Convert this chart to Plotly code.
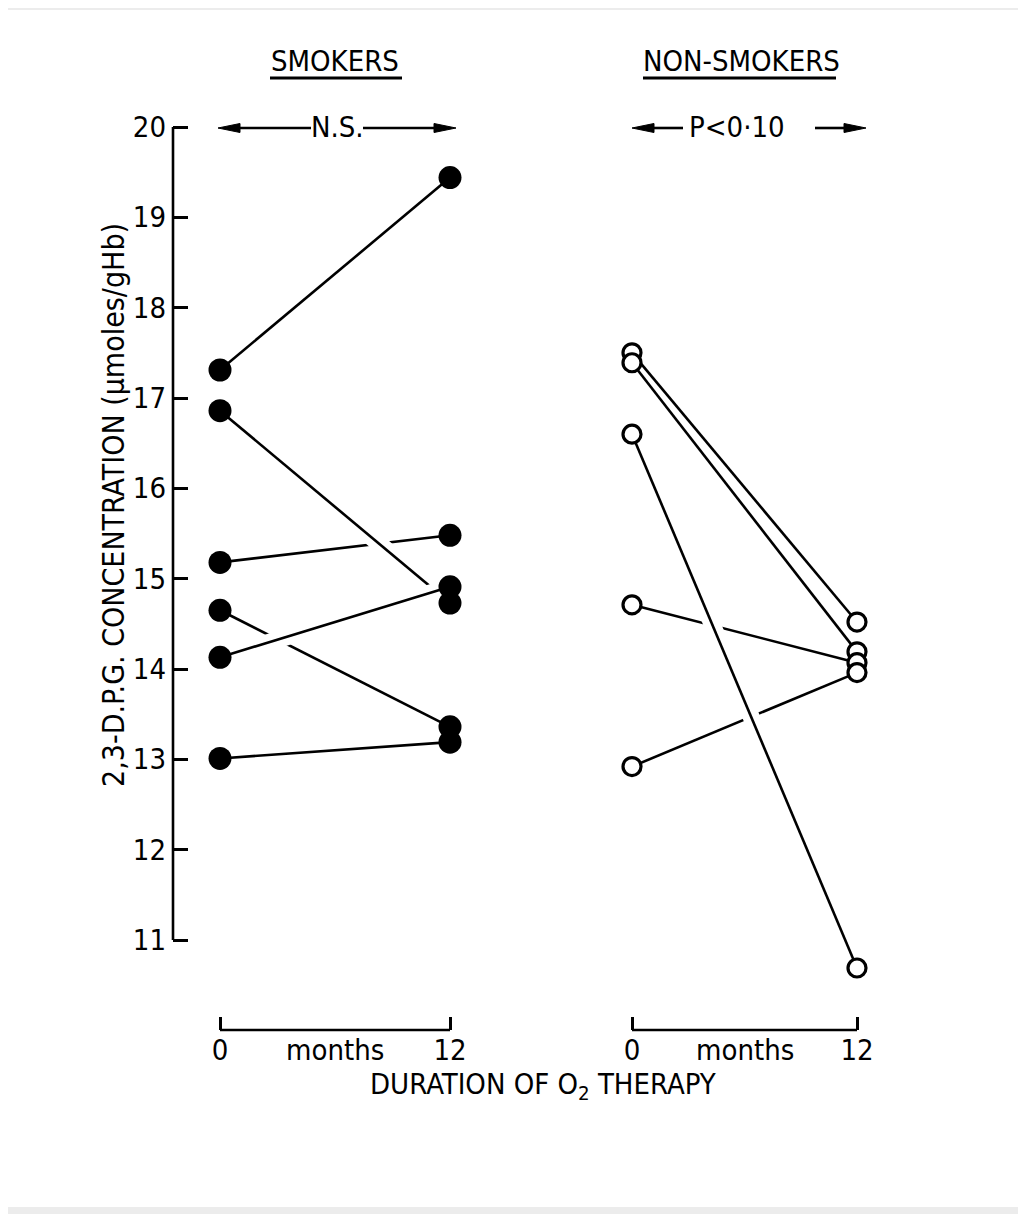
import plotly.graph_objects as go

# ---------------- data ----------------
months = [0, 12]
smokers_start = [17.31, 16.86, 15.18, 14.65, 14.13, 13.01]
smokers_end = [19.44, 14.73, 15.48, 13.36, 14.91, 13.19]
nonsmokers_start = [17.50, 17.39, 16.60, 14.71, 12.92]
nonsmokers_end = [14.52, 14.19, 10.69, 14.07, 13.96]
y_ticks = [11, 12, 13, 14, 15, 16, 17, 18, 19, 20]
x_ticks = [0, 12]
x_ticktext = ["0", "12"]

# lines drawn "on top" with a white gap where they cross others
smokers_top = [1, 4]
nonsmokers_top = [2]

# the page is shown with an 8px body margin; compensate
OFF = 8
W, H = 1026 - OFF, 1214 - OFF
FONT = "Liberation Sans Narrow, DejaVu Sans Condensed, Arial Narrow, sans-serif"
LW = 2.6


def px_x(p):
    return (p - OFF) / W


def px_y(p):
    return 1 - (p - OFF) / H


fig = go.Figure()


def add_group(starts, ends, top, xa, ya, filled):
    order = [i for i in range(len(starts)) if i not in top] + top
    for i in order:
        if i in top:
            fig.add_trace(go.Scatter(x=months, y=[starts[i], ends[i]], mode="lines",
                                     line=dict(color="white", width=17),
                                     xaxis=xa, yaxis=ya, hoverinfo="skip", showlegend=False))
        fig.add_trace(go.Scatter(x=months, y=[starts[i], ends[i]], mode="lines",
                                 line=dict(color="black", width=LW),
                                 xaxis=xa, yaxis=ya, hoverinfo="skip", showlegend=False))
    xs = [0] * len(starts) + [12] * len(ends)
    ys = list(starts) + list(ends)
    if filled:
        marker = dict(size=23, color="black", line=dict(width=0))
    else:
        marker = dict(size=18, color="white", line=dict(color="black", width=3.2))
    fig.add_trace(go.Scatter(x=xs, y=ys, mode="markers", marker=marker, cliponaxis=False,
                             xaxis=xa, yaxis=ya, hoverinfo="skip", showlegend=False))


add_group(smokers_start, smokers_end, smokers_top, "x", "y", True)
add_group(nonsmokers_start, nonsmokers_end, nonsmokers_top, "x2", "y2", False)

# ---------------- axes ----------------
unit_l = (450 - 220) / 12.0
unit_r = (857 - 632) / 12.0
unit_y = (940 - 127) / 9.0
ax_left_px = 173
y_top_px, y_bot_px = 110, 1030

x1_range = [-(220 - ax_left_px) / unit_l, 12 + (480 - 450) / unit_l]
x2_range = [-(632 - 600) / unit_r, 12 + (890 - 857) / unit_r]
y_range = [11 - (y_bot_px - 940) / unit_y, 20 + (127 - y_top_px) / unit_y]

xcommon = dict(showgrid=False, zeroline=False, showline=False, ticks="inside",
               ticklen=13, tickwidth=LW, tickcolor="black",
               tickvals=x_ticks, ticktext=x_ticktext,
               tickfont=dict(family=FONT, size=29, color="black"))

fig.update_layout(
    width=W, height=H, autosize=False,
    margin=dict(l=0, r=0, t=0, b=0),
    paper_bgcolor="#ececec", plot_bgcolor="rgba(0,0,0,0)",
    xaxis=dict(domain=[px_x(ax_left_px), px_x(480)], range=x1_range, anchor="y", **xcommon),
    xaxis2=dict(domain=[px_x(600), px_x(890)], range=x2_range, anchor="y2", **xcommon),
    yaxis=dict(domain=[px_y(y_bot_px), px_y(y_top_px)], range=y_range, anchor="x",
               showgrid=False, zeroline=False, showline=False,
               ticks="inside", ticklen=15, tickwidth=LW, tickcolor="black",
               tickvals=y_ticks, ticklabelstandoff=6,
               tickfont=dict(family=FONT, size=29, color="black")),
    yaxis2=dict(domain=[px_y(y_bot_px), px_y(y_top_px)], range=y_range, anchor="x2",
                matches="y", visible=False),
)

shapes = []
# white page on grey scan background
shapes.append(dict(type="rect", xref="paper", yref="paper", x0=px_x(8), x1=px_x(1019),
                   y0=px_y(1207), y1=px_y(10), fillcolor="white", line=dict(width=0), layer="below"))
# y axis line from 11 to 20
shapes.append(dict(type="line", xref="paper", yref="y", x0=px_x(ax_left_px), x1=px_x(ax_left_px),
                   y0=11, y1=20, line=dict(color="black", width=LW)))
# bottom brackets 0-12
for xr in ["x", "x2"]:
    shapes.append(dict(type="line", xref=xr, yref="paper", x0=0, x1=12,
                       y0=px_y(y_bot_px), y1=px_y(y_bot_px), line=dict(color="black", width=LW)))
# header underlines
shapes.append(dict(type="line", xref="paper", yref="paper", x0=px_x(270), x1=px_x(402),
                   y0=px_y(78), y1=px_y(78), line=dict(color="black", width=3)))
shapes.append(dict(type="line", xref="paper", yref="paper", x0=px_x(643), x1=px_x(836),
                   y0=px_y(78), y1=px_y(78), line=dict(color="black", width=3)))


# significance arrows (shaft + slender filled head), positions in pixels
def arrow_shapes(head_px, tail_px, y_px=128):
    d = 1 if head_px > tail_px else -1
    base = head_px - d * 22
    out = [dict(type="line", xref="paper", yref="paper", x0=px_x(tail_px), x1=px_x(base),
                y0=px_y(y_px), y1=px_y(y_px), line=dict(color="black", width=2.6))]
    path = "M {} {} L {} {} L {} {} Z".format(
        px_x(head_px), px_y(y_px), px_x(base), px_y(y_px - 4.5), px_x(base), px_y(y_px + 4.5))
    out.append(dict(type="path", xref="paper", yref="paper", path=path,
                    fillcolor="black", line=dict(color="black", width=1)))
    return out


shapes += arrow_shapes(218, 311)
shapes += arrow_shapes(456, 363)
shapes += arrow_shapes(632, 683)
shapes += arrow_shapes(866, 815)
fig.update_layout(shapes=shapes)

tf = dict(family=FONT, size=29, color="black")
ann = []
ann.append(dict(text="SMOKERS", xref="paper", yref="paper", x=px_x(335), y=px_y(61),
                showarrow=False, font=tf, xanchor="center", yanchor="middle"))
ann.append(dict(text="NON-SMOKERS", xref="paper", yref="paper", x=px_x(741), y=px_y(61),
                showarrow=False, font=tf, xanchor="center", yanchor="middle"))
ann.append(dict(text="N.S.", xref="x", yref="y", x=(337 - 220) / unit_l, y=20,
                showarrow=False, font=tf, xanchor="center", yanchor="middle"))
ann.append(dict(text="P&lt;0·10", xref="x2", yref="y2", x=(737 - 632) / unit_r, y=20,
                showarrow=False, font=tf, xanchor="center", yanchor="middle"))

for xr in ["x", "x2"]:
    ann.append(dict(text="months", xref=xr, yref="paper", x=6, y=px_y(1050),
                    showarrow=False, font=tf, xanchor="center", yanchor="middle"))
ann.append(dict(text="DURATION OF O<sub>2</sub> THERAPY", xref="paper", yref="paper",
                x=px_x(543), y=px_y(1086), showarrow=False, font=tf,
                xanchor="center", yanchor="middle"))
ann.append(dict(text="2,3-D.P.G. CONCENTRATION (µmoles/gHb)", xref="paper", yref="paper",
                x=px_x(113), y=px_y(505), textangle=-90, showarrow=False,
                font=dict(family=FONT, size=30, color="black"),
                xanchor="center", yanchor="middle"))
fig.update_layout(annotations=ann)

fig.write_html("out.html")
